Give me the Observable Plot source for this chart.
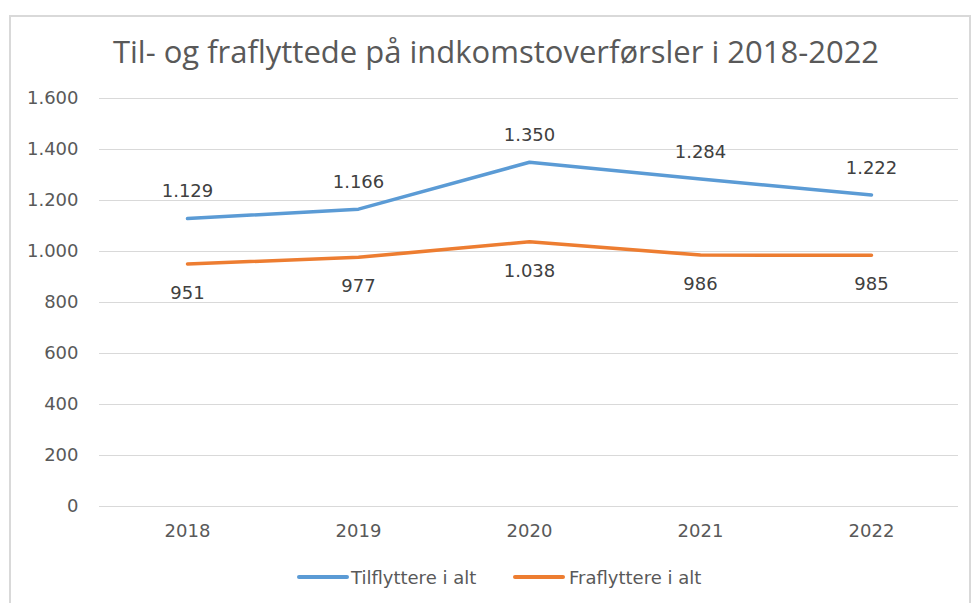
<!DOCTYPE html>
<html><head><meta charset="utf-8">
<script src="https://cdn.jsdelivr.net/npm/d3@7"></script>
<script src="https://cdn.jsdelivr.net/npm/@observablehq/plot@0.6"></script>
<style>
body{margin:0;background:#fff;width:974px;height:603px;position:relative;overflow:hidden;font-family:"DejaVu Sans",sans-serif;}
#frame{position:absolute;left:9px;top:15px;width:962px;height:600px;border:2px solid #d9d9d9;box-sizing:border-box;}
#title{position:absolute;left:0;width:992px;top:31px;text-align:center;font-family:"Open Sans",sans-serif;font-weight:400;font-size:31px;line-height:40px;color:#595959;white-space:nowrap;}
#chart{position:absolute;left:0;top:80px;}
.leg{position:absolute;top:566px;height:22px;display:flex;align-items:center;font-size:18px;color:#595959;white-space:nowrap;}
.leg i{display:inline-block;width:52px;height:4px;border-radius:2px;margin-right:2px;}
</style></head>
<body>
<div id="frame"></div>
<div id="title">Til- og fraflyttede på indkomstoverførsler i 2018-2022</div>
<div id="chart"></div>
<div class="leg" style="left:297px"><i style="background:#5B9BD5"></i>Tilflyttere i alt</div>
<div class="leg" style="left:513px"><i style="background:#ED7D31;margin-right:4px"></i>Fraflyttere i alt</div>
<script>
const years = ["2018","2019","2020","2021","2022"];
const tilflyttere = [1129,1166,1350,1284,1222];
const fraflyttere = [951,977,1038,986,985];
const yTicks = [0,200,400,600,800,1000,1200,1400,1600];

const loc = d3.formatLocale({decimal:",",thousands:".",grouping:[3],currency:["","kr"]});
const fmt = loc.format(",d");

const tilData = years.map((y,i)=>({year:y,value:tilflyttere[i]}));
const fraData = years.map((y,i)=>({year:y,value:fraflyttere[i]}));

const plot = Plot.plot({
  width:974, height:480,
  marginTop:18, marginBottom:54, marginLeft:99, marginRight:16,
  style:{fontFamily:"DejaVu Sans, sans-serif", fontSize:"18px", color:"#595959", background:"transparent"},
  x:{type:"point", domain:years, padding:0.5, label:null},
  y:{domain:[0,1600], label:null},
  marks:[
    Plot.gridY(yTicks,{stroke:"#d9d9d9", strokeOpacity:1, strokeWidth:1}),
    Plot.axisY(yTicks,{tickSize:0, tickPadding:21, tickFormat:fmt, label:null, fill:"#595959"}),
    Plot.axisX({tickSize:0, tickPadding:18, label:null, fill:"#595959"}),
    Plot.line(tilData,{x:"year", y:"value", stroke:"#5B9BD5", strokeWidth:3.5, strokeLinecap:"round", strokeLinejoin:"round"}),
    Plot.line(fraData,{x:"year", y:"value", stroke:"#ED7D31", strokeWidth:3.5, strokeLinecap:"round", strokeLinejoin:"round"}),
    Plot.text(tilData,{x:"year", y:"value", text:d=>fmt(d.value), dy:-27, fill:"#404040", fontSize:18}),
    Plot.text(fraData,{x:"year", y:"value", text:d=>fmt(d.value), dy:29, fill:"#404040", fontSize:18})
  ]
});
document.getElementById("chart").appendChild(plot);
</script>
</body></html>
